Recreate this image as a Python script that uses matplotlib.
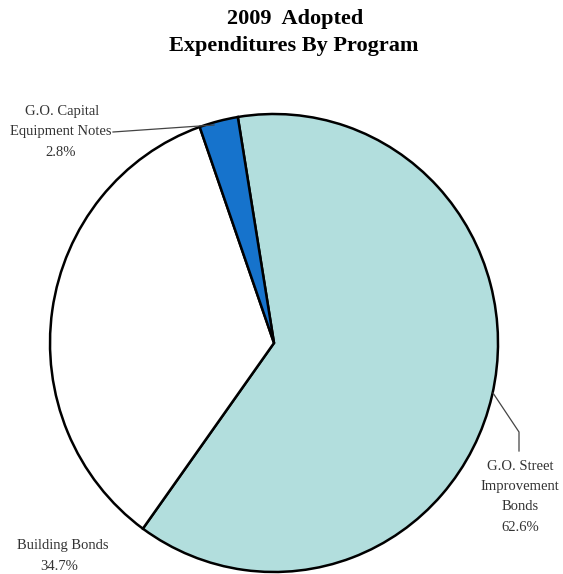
import matplotlib
matplotlib.use("Agg")
import matplotlib.pyplot as plt

# Program shares of adopted 2009 expenditures
programs = ["G.O. Street\nImprovement\nBonds", "Building Bonds", "G.O. Capital\nEquipment Notes"]
shares = [62.6, 34.7, 2.8]
colors = ["#b2dedd", "#ffffff", "#1673cc"]

W, H = 563, 574
fig = plt.figure(figsize=(W / 100, H / 100), dpi=100)

# Pie axes placed so the circle sits in the lower part of the page
cx, cy, rx, ry = 274, 343, 224, 229
ax = fig.add_axes([(cx - rx) / W, (H - cy - ry) / H, 2 * rx / W, 2 * ry / H])

ax.pie(shares, colors=colors, startangle=99.3, counterclock=False, radius=1.0,
       wedgeprops=dict(edgecolor="black", linewidth=1.8))
ax.set_xlim(-1.0, 1.0)
ax.set_ylim(-1.0, 1.0)
ax.set_aspect("auto")
ax.axis("off")
for p in ax.patches:
    p.set_clip_on(False)

serif = ["Liberation Serif", "DejaVu Serif"]
tcol = "#333333"

fig.text(295 / W, 1 - 19 / H, "2009  Adopted", ha="center", va="center",
         family=serif, fontweight="bold", fontsize=16, color="black")
fig.text(294 / W, 1 - 46 / H, "Expenditures By Program", ha="center", va="center",
         family=serif, fontweight="bold", fontsize=16, color="black")

def px(x, y):
    return x / W, 1 - y / H

# Capital equipment notes label and leader
cap_lbl = programs[2].split("\n")
fig.text(*px(62, 111), cap_lbl[0], ha="center", va="center", family=serif, fontsize=10.5, color=tcol)
fig.text(*px(61, 132), cap_lbl[1], ha="center", va="center", family=serif, fontsize=10.5, color=tcol)
fig.text(*px(61, 152), f"{shares[2]:.1f}%", ha="center", va="center", family=serif, fontsize=10.5, color=tcol)
fig.add_artist(plt.Line2D([113 / W, 214 / W], [1 - 132 / H, 1 - 125 / H],
                          color="#444444", linewidth=0.9))

# Street improvement bonds label and leader
st_lbl = programs[0].split("\n")
for i, line in enumerate(st_lbl + [f"{shares[0]:.1f}%"]):
    fig.text(*px(520, 466 + 20.5 * i), line, ha="center", va="center",
             family=serif, fontsize=10.5, color=tcol)
fig.add_artist(plt.Line2D([493 / W, 519 / W, 519 / W],
                          [1 - 393 / H, 1 - 432 / H, 1 - 451 / H],
                          color="#444444", linewidth=0.9))

# Building bonds label
fig.text(*px(63, 545), programs[1], ha="center", va="center", family=serif, fontsize=10.5, color=tcol)
fig.text(*px(59, 567), f"{shares[1]:.1f}%", ha="center", va="center", family=serif, fontsize=10.5, color=tcol)

fig.savefig("out.png", dpi=100, facecolor="white")
